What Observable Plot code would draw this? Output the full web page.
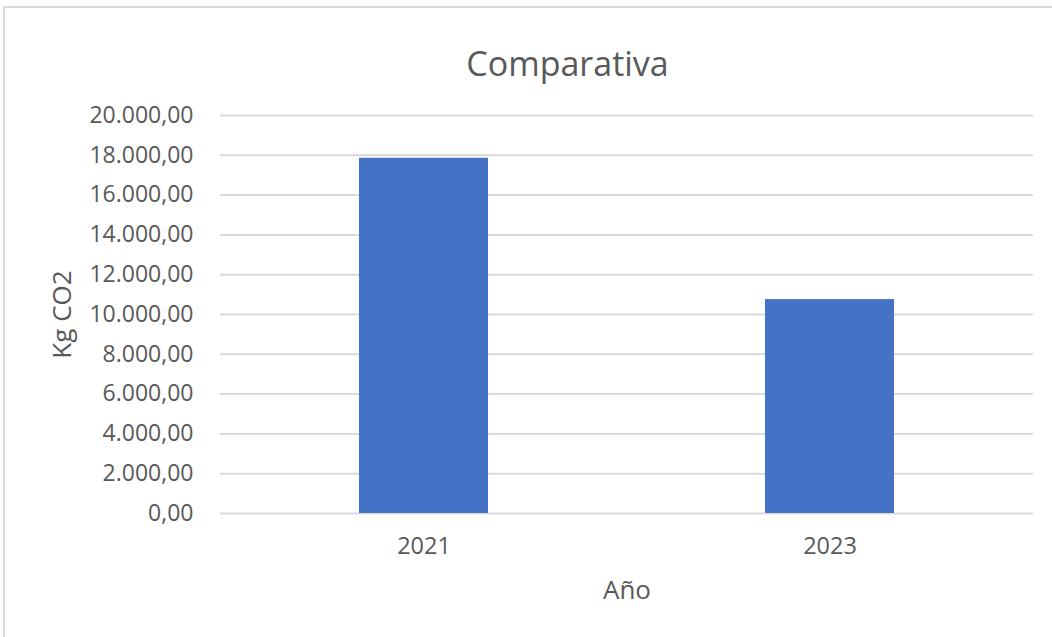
<!DOCTYPE html>
<html>
<head>
<meta charset="utf-8">
<script src="https://cdn.jsdelivr.net/npm/d3@7"></script>
<script src="https://cdn.jsdelivr.net/npm/@observablehq/plot@0.6"></script>
<style>
  html, body { margin: 0; padding: 0; background: #fff; overflow: hidden; }
  #wrap { position: relative; width: 1052px; height: 637px; overflow: hidden; font-family: "Open Sans", sans-serif; }
  #frame { position: absolute; left: 3px; top: 6px; width: 1200px; height: 800px; border-top: 2px solid #d9d9d9; border-left: 2px solid #d9d9d9; box-sizing: border-box; }
  #title { position: absolute; left: 0; top: 40px; width: 1135px; text-align: center; font-size: 34px; color: #595959; line-height: 46px; }
  #chart { position: absolute; left: 0; top: 90px; }
</style>
</head>
<body>
<div id="wrap">
  <div id="frame"></div>
  <div id="title">Comparativa</div>
  <div id="chart"></div>
</div>
<script>
const years = ["2021", "2023"];
const values = [17850, 10750];
const yTicks = [0, 2000, 4000, 6000, 8000, 10000, 12000, 14000, 16000, 18000, 20000];
const xLabel = "Año";
const yLabel = "Kg CO2";

const data = years.map((y, i) => ({year: y, value: values[i]}));
const fmt = d3.formatLocale({decimal: ",", thousands: ".", grouping: [3], currency: ["", "€"]}).format(",.2f");

const plot = Plot.plot({
  width: 1052,
  height: 547,
  marginLeft: 220,
  marginRight: 19,
  marginTop: 25,
  marginBottom: 124,
  style: {fontFamily: "Open Sans, sans-serif", fontSize: "23px", color: "#595959", background: "transparent"},
  x: {domain: years, paddingInner: 0.683, paddingOuter: 0.3415, label: null},
  y: {domain: [0, 20000], label: null},
  marks: [
    Plot.gridY(yTicks, {stroke: "#d9d9d9", strokeOpacity: 1, strokeWidth: 2}),
    Plot.barY(data, {x: "year", y: "value", fill: "#4472C4"}),
    Plot.axisY(yTicks, {tickSize: 0, tickPadding: 27, tickFormat: fmt, fill: "#595959", fontSize: 23, label: null}),
    Plot.axisX({tickSize: 0, tickPadding: 24, fill: "#595959", fontSize: 23.5, label: null}),
    Plot.text([xLabel], {frameAnchor: "bottom", lineAnchor: "middle", dy: 77, fill: "#595959", fontSize: 26}),
    Plot.text([yLabel], {frameAnchor: "left", textAnchor: "middle", lineAnchor: "middle", dx: -158, rotate: -90, fill: "#595959", fontSize: 26})
  ]
});
document.getElementById("chart").appendChild(plot);
</script>
</body>
</html>
